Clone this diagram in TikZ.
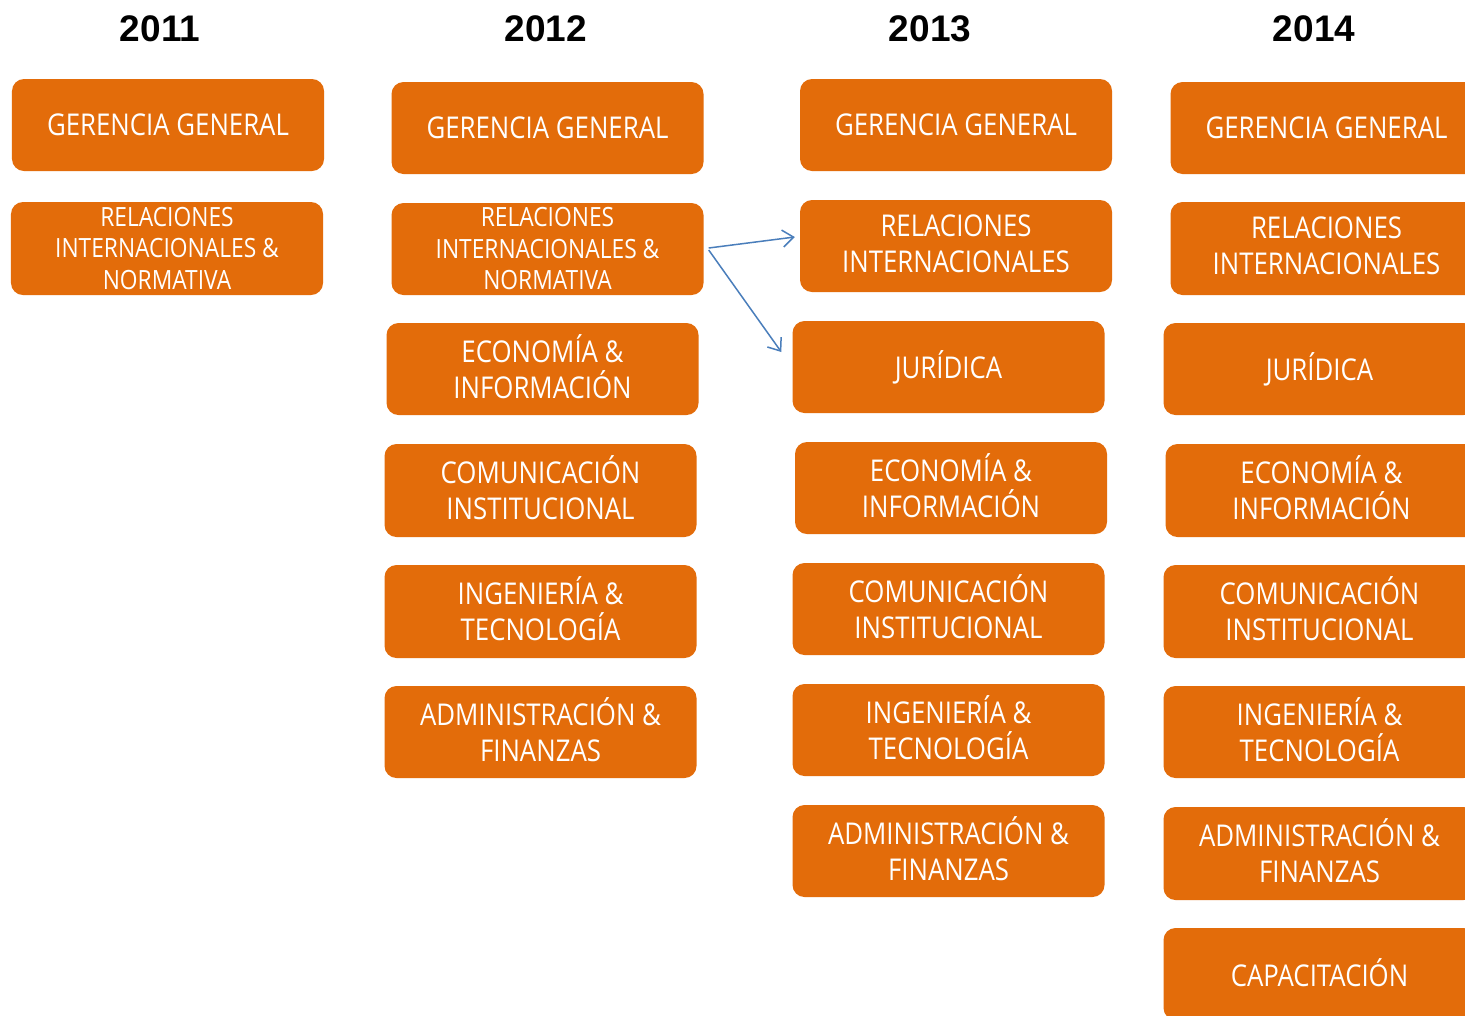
\documentclass[tikz,border=0pt]{standalone}
\usepackage{fontspec}
\setmainfont{Open Sans}[FakeStretch=0.86]
\newfontfamily\yearfont{Liberation Sans}[Scale=1]
\usetikzlibrary{arrows.meta,calc}
\definecolor{boxorange}{HTML}{E36C0A}
\definecolor{arrowblue}{HTML}{4A7EBB}
\tikzset{
  orgbox/.style={fill=boxorange, draw=none, rounded corners=12bp, minimum width=312bp, minimum height=92bp,
    inner sep=0pt, text=white, align=center, font=\fontsize{30bp}{36bp}\selectfont},
  twobox/.style={orgbox, execute at end node={\rule[-5bp]{0pt}{5bp}}},
  onebox/.style={orgbox, execute at end node={\rule[-2bp]{0pt}{2bp}}},
  smallbox/.style={orgbox, font=\fontsize{26.5bp}{31.5bp}\selectfont},
  yearlabel/.style={font=\yearfont\bfseries\fontsize{37bp}{40bp}\selectfont, text=black, inner sep=0pt},
  move/.style={draw=arrowblue, line width=1.5bp, -{Straight Barb[length=11bp,width=17bp,line width=1.5bp]}}
}
\begin{document}
\begin{tikzpicture}[x=1bp,y=-1bp]
\useasboundingbox (0,0) rectangle (1465,1015);
\clip (0,0) rectangle (1465,1015);
\fill[white] (0,0) rectangle (1465,1015);
% years
\node[yearlabel] (y1) at (160,29) {2011};
\node[yearlabel] (y2) at (546,29) {2012};
\node[yearlabel] (y3) at (930,29) {2013};
\node[yearlabel] (y4) at (1314,29) {2014};
% 2011
\node[orgbox] (a1) at (168,125) {GERENCIA GENERAL};
\node[smallbox, minimum height=93bp] (a2) at (167,248.5) {RELACIONES\\INTERNACIONALES \&\\NORMATIVA};
% 2012
\node[orgbox] (b1) at (547.5,128) {GERENCIA GENERAL};
\node[smallbox] (b2) at (547.5,249) {RELACIONES\\INTERNACIONALES \&\\NORMATIVA};
\node[twobox] (b3) at (542.5,369) {ECONOMÍA \&\\INFORMACIÓN};
\node[twobox, minimum height=93bp] (b4) at (540.5,490.5) {COMUNICACIÓN\\INSTITUCIONAL};
\node[twobox, minimum height=93bp] (b5) at (540.5,611.5) {INGENIERÍA \&\\TECNOLOGÍA};
\node[twobox] (b6) at (540.5,732) {ADMINISTRACIÓN \&\\FINANZAS};
% 2013
\node[orgbox] (c1) at (956,125) {GERENCIA GENERAL};
\node[twobox] (c2) at (956,246) {RELACIONES\\INTERNACIONALES};
\node[onebox] (c3) at (948.5,367) {JURÍDICA};
\node[twobox] (c4) at (951,488) {ECONOMÍA \&\\INFORMACIÓN};
\node[twobox] (c5) at (948.5,609) {COMUNICACIÓN\\INSTITUCIONAL};
\node[twobox] (c6) at (948.5,730) {INGENIERÍA \&\\TECNOLOGÍA};
\node[twobox] (c7) at (948.5,851) {ADMINISTRACIÓN \&\\FINANZAS};
% 2014
\node[orgbox] (d1) at (1326.5,128) {GERENCIA GENERAL};
\node[twobox, minimum height=93bp] (d2) at (1326.5,248.5) {RELACIONES\\INTERNACIONALES};
\node[onebox] (d3) at (1319.5,369) {JURÍDICA};
\node[twobox, minimum height=93bp] (d4) at (1321.5,490.5) {ECONOMÍA \&\\INFORMACIÓN};
\node[twobox, minimum height=93bp] (d5) at (1319.5,611.5) {COMUNICACIÓN\\INSTITUCIONAL};
\node[twobox] (d6) at (1319.5,732) {INGENIERÍA \&\\TECNOLOGÍA};
\node[twobox, minimum height=93bp] (d7) at (1319.5,853.5) {ADMINISTRACIÓN \&\\FINANZAS};
\node[onebox] (d8) at (1319.5,974) {CAPACITACIÓN};
% arrows
\coordinate (src1) at ($(b2.east)+(5,-1)$);
\coordinate (src2) at ($(b2.east)+(5,1)$);
\coordinate (dst1) at ($(c2.west)+(-5,-9)$);
\coordinate (dst2) at ($(c3.west)+(-11,-15)$);
\draw[move] (src1) -- (dst1);
\draw[move] (src2) -- (dst2);
\end{tikzpicture}
\end{document}
